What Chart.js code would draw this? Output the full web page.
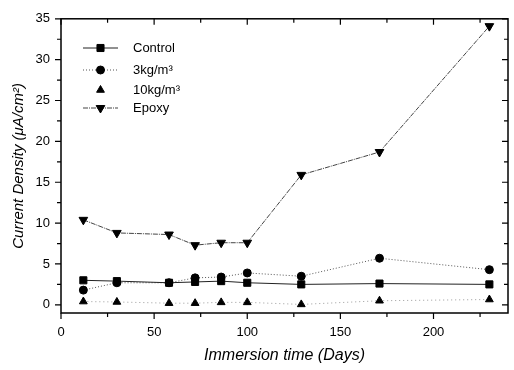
<!DOCTYPE html>
<html>
<head>
<meta charset="utf-8">
<script src="https://cdn.jsdelivr.net/npm/chart.js@4/dist/chart.umd.min.js"></script>
<style>
  html, body { margin: 0; padding: 0; background: #fff; }
  #wrap { width: 514px; height: 370px; }
</style>
</head>
<body>
<div id="wrap"><canvas id="densityChart"></canvas></div>
<script>
// immersion days and corrosion current density (uA/cm2) per mix
const days    = [12, 30, 58, 72, 86, 100, 129, 171, 230];
const control = [3.0, 2.9, 2.7, 2.8, 2.9, 2.7, 2.5, 2.6, 2.5];
const fibre3  = [1.8, 2.7, 2.7, 3.3, 3.4, 3.9, 3.5, 5.7, 4.3];
const fibre10 = [0.4, 0.35, 0.2, 0.2, 0.3, 0.3, 0.05, 0.5, 0.65];
const epoxy   = [10.4, 8.8, 8.6, 7.3, 7.6, 7.6, 15.9, 18.7, 34.1];

const xTicks = [0, 50, 100, 150, 200];
const yTicks = [0, 5, 10, 15, 20, 25, 30, 35];

const FONT = '"Liberation Sans", Arial, sans-serif';

function pts(ys) {
    return ys.map((y, i) => ({ x: days[i], y: y }));
}

// box frame with Origin-style ticks: out on left/bottom, in on top/right
const frameTicks = {
    id: 'frameTicks',
    afterDraw(chart) {
        const { ctx, chartArea: a, scales: { x, y } } = chart;
        ctx.save();
        ctx.strokeStyle = '#000';
        ctx.lineWidth = 1.5;
        ctx.strokeRect(a.left, a.top, a.right - a.left, a.bottom - a.top);
        ctx.lineWidth = 1.2;
        ctx.beginPath();
        for (let v = 0; v <= x.max; v += 25) {
            const px = x.getPixelForValue(v);
            const len = v % 50 === 0 ? 6 : 4;
            ctx.moveTo(px, a.bottom); ctx.lineTo(px, a.bottom + len);
            ctx.moveTo(px, a.top); ctx.lineTo(px, a.top + len);
        }
        for (let v = 0; v <= y.max; v += 2.5) {
            const py = y.getPixelForValue(v);
            const len = v % 5 === 0 ? 6 : 4;
            ctx.moveTo(a.left, py); ctx.lineTo(a.left - len, py);
            ctx.moveTo(a.right, py); ctx.lineTo(a.right - len, py);
        }
        ctx.stroke();
        ctx.restore();
    }
};

// line + marker legend in the upper left of the plot
const sampleLegend = {
    id: 'sampleLegend',
    afterDraw(chart) {
        const { ctx, chartArea: a } = chart;
        const rows = [48, 70, 90, 108];
        ctx.save();
        chart.data.datasets.forEach((ds, i) => {
            const yy = rows[i];
            const x0 = a.left + 22, x1 = a.left + 57, xm = (x0 + x1) / 2;
            if (ds.legendLine) {
                ctx.strokeStyle = ds.borderColor;
                ctx.lineWidth = ds.borderWidth;
                ctx.setLineDash(ds.borderDash || []);
                ctx.beginPath();
                ctx.moveTo(x0, yy); ctx.lineTo(x1, yy);
                ctx.stroke();
                ctx.setLineDash([]);
            }
            ctx.fillStyle = '#000';
            ctx.strokeStyle = '#000';
            Chart.helpers.drawPoint(ctx, {
                pointStyle: ds.pointStyle,
                radius: ds.pointRadius,
                rotation: ds.pointRotation || 0,
                borderWidth: 1
            }, xm, yy);
            ctx.fillStyle = '#000';
            ctx.font = '13px ' + FONT;
            ctx.textBaseline = 'middle';
            ctx.fillText(ds.label, a.left + 72, yy);
        });
        ctx.restore();
    }
};

const marker = { pointBackgroundColor: '#000', pointBorderColor: '#000', pointBorderWidth: 1 };

new Chart(document.getElementById('densityChart').getContext('2d'), {
    type: 'scatter',
    data: {
        datasets: [{
            label: 'Control',
            data: pts(control),
            showLine: true,
            borderColor: '#222',
            borderWidth: 1,
            pointStyle: 'rect',
            pointRadius: 5,
            legendLine: true,
            ...marker
        }, {
            label: '3kg/m³',
            data: pts(fibre3),
            showLine: true,
            borderColor: '#555',
            borderWidth: 1,
            borderDash: [1, 2],
            pointStyle: 'circle',
            pointRadius: 4,
            legendLine: true,
            ...marker
        }, {
            label: '10kg/m³',
            data: pts(fibre10),
            showLine: true,
            borderColor: '#999',
            borderWidth: 1,
            borderDash: [1, 3],
            pointStyle: 'triangle',
            pointRadius: 4.5,
            legendLine: false,
            ...marker
        }, {
            label: 'Epoxy',
            data: pts(epoxy),
            showLine: true,
            borderColor: '#444',
            borderWidth: 1,
            borderDash: [5, 1, 1, 1],
            pointStyle: 'triangle',
            pointRotation: 180,
            pointRadius: 5,
            legendLine: true,
            ...marker
        }]
    },
    options: {
        responsive: true,
        maintainAspectRatio: false,
        animation: false,
        layout: { padding: { top: 15, right: 4, left: 0, bottom: 0 } },
        plugins: {
            legend: { display: false },
            tooltip: { enabled: false }
        },
        scales: {
            x: {
                type: 'linear',
                min: 0,
                max: 240,
                grid: { display: false, drawTicks: false },
                border: { display: false },
                afterBuildTicks: s => { s.ticks = xTicks.map(v => ({ value: v })); },
                afterFit: s => { s.height = 57; },
                ticks: { color: '#000', padding: 12, font: { family: FONT, size: 13 } },
                title: {
                    display: true,
                    text: 'Immersion time (Days)',
                    color: '#000',
                    padding: 5,
                    font: { family: FONT, size: 16, style: 'italic' }
                }
            },
            y: {
                min: -1,
                max: 35,
                grid: { display: false, drawTicks: false },
                border: { display: false },
                afterBuildTicks: s => { s.ticks = yTicks.map(v => ({ value: v })); },
                afterFit: s => { s.width = 61; },
                ticks: { color: '#000', padding: 11, font: { family: FONT, size: 13 } },
                title: {
                    display: true,
                    text: 'Current Density (μA/cm²)',
                    color: '#000',
                    padding: 10,
                    font: { family: FONT, size: 15, style: 'italic' }
                }
            }
        }
    },
    plugins: [frameTicks, sampleLegend]
});
</script>
</body>
</html>
